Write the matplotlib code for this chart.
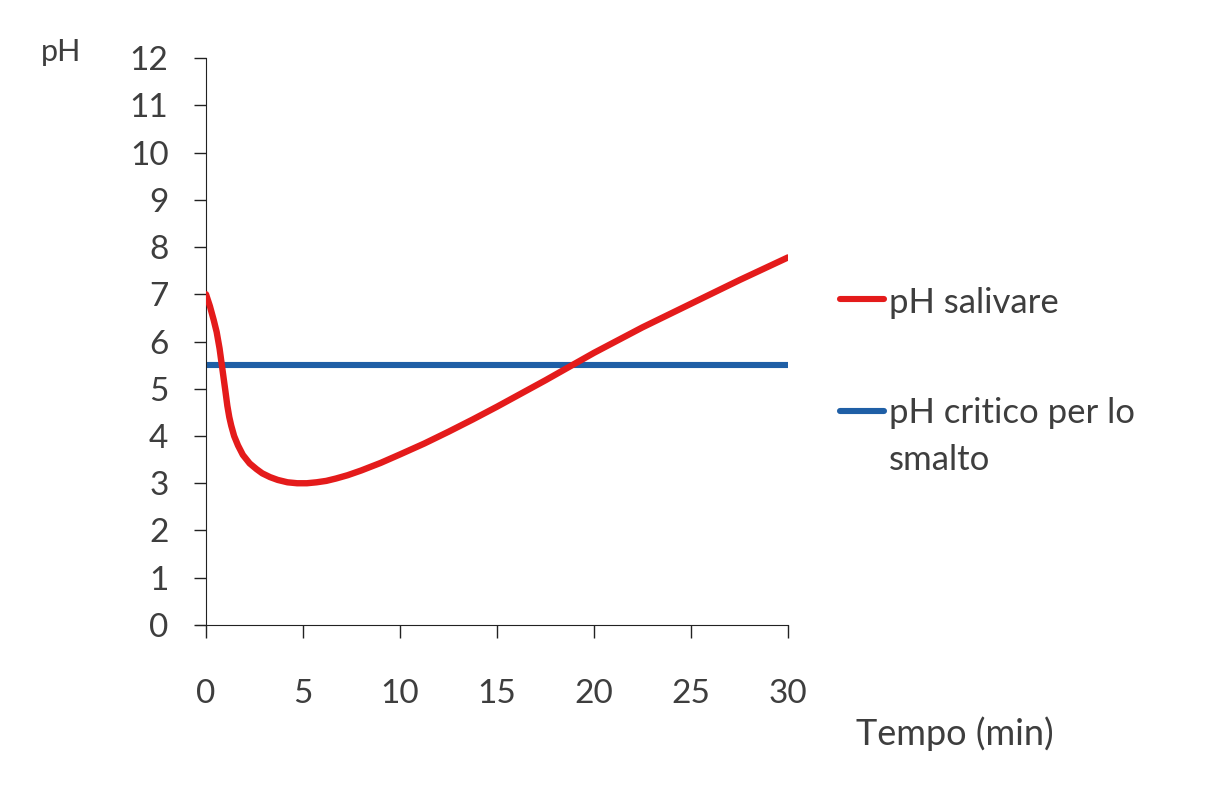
import numpy as np
import matplotlib.pyplot as plt
from matplotlib.lines import Line2D

plt.rcParams['font.family'] = ['Lato', 'Open Sans', 'DejaVu Sans']

# values
tempo = [0, 0.2, 0.4, 0.55, 0.7, 0.8, 0.9, 1.0, 1.1, 1.2, 1.3, 1.45, 1.65, 1.9, 2.25,
         2.6, 2.9, 3.3, 3.7, 4.2, 4.7, 5.2, 5.7, 6.2, 6.7, 7.3, 8, 9, 10,
         11.25, 12.5, 13.75, 15, 17.5, 20, 22.5, 25, 27.5, 30]
ph_salivare = [7.0, 6.75, 6.45, 6.2, 5.85, 5.55, 5.25, 4.95, 4.64, 4.4, 4.22, 4.0, 3.8, 3.6, 3.42,
               3.3, 3.21, 3.13, 3.07, 3.02, 3.0, 3.0, 3.02, 3.05, 3.1, 3.17, 3.27, 3.43, 3.61,
               3.84, 4.09, 4.35, 4.62, 5.18, 5.76, 6.3, 6.8, 7.3, 7.78]
tempo_critico = [0, 30]
ph_critico = [5.5, 5.5]

x_ticks = [0, 5, 10, 15, 20, 25, 30]
y_ticks = list(range(0, 13))

serie_nomi = ['pH salivare', 'pH critico per lo\nsmalto']

txt = '#3e3e3e'
red = '#e41b1b'
blue = '#1f5fa6'

fig = plt.figure(figsize=(12.24, 8.08), dpi=100)
ax = fig.add_axes([0.1683, 0.2265, 0.4755, 0.7017])

ax.plot(tempo, ph_salivare, color=red, lw=4.6, solid_capstyle='round',
        solid_joinstyle='round', zorder=3)
ax.plot(tempo_critico, ph_critico, color=blue, lw=4.4, solid_capstyle='butt', zorder=2)

ax.set_xlim(0, 30)
ax.set_ylim(0, 12)
ax.set_xticks(x_ticks)
ax.set_yticks(y_ticks)
for s in ['top', 'right']:
    ax.spines[s].set_visible(False)
ax.spines['left'].set_color('#222222')
ax.spines['bottom'].set_color('#222222')
ax.spines['bottom'].set_bounds(-0.5, 30)
ax.tick_params(axis='x', direction='out', length=9, width=1, colors='#222222',
               pad=30, labelsize=24, labelcolor=txt)
ax.tick_params(axis='y', direction='out', length=9, width=1, colors='#222222',
               pad=18, labelsize=24, labelcolor=txt)

fig.text(61 / 1224, 1 - 52 / 808, 'pH', fontsize=22, color=txt, ha='center', va='center')
fig.text(955 / 1224, 1 - 745 / 808, 'Tempo (min)', fontsize=26, color=txt, ha='center',
         va='baseline')

# legend, drawn by hand so the handle sits beside the first text line
legend_pos = [(299, 313), (411, 423)]   # handle y, first baseline y (pixels from top)
for label, col, (ypx, bpx) in zip(serie_nomi, [red, blue], legend_pos):
    y = 1 - ypx / 808
    fig.add_artist(Line2D([840 / 1224, 884 / 1224], [y, y], color=col, lw=4.4,
                          solid_capstyle='round'))
    for i, riga in enumerate(label.split('\n')):
        fig.text(889 / 1224, 1 - (bpx + 47 * i) / 808, riga, fontsize=25, color=txt,
                 ha='left', va='baseline')

fig.savefig('out.png', dpi=100)
